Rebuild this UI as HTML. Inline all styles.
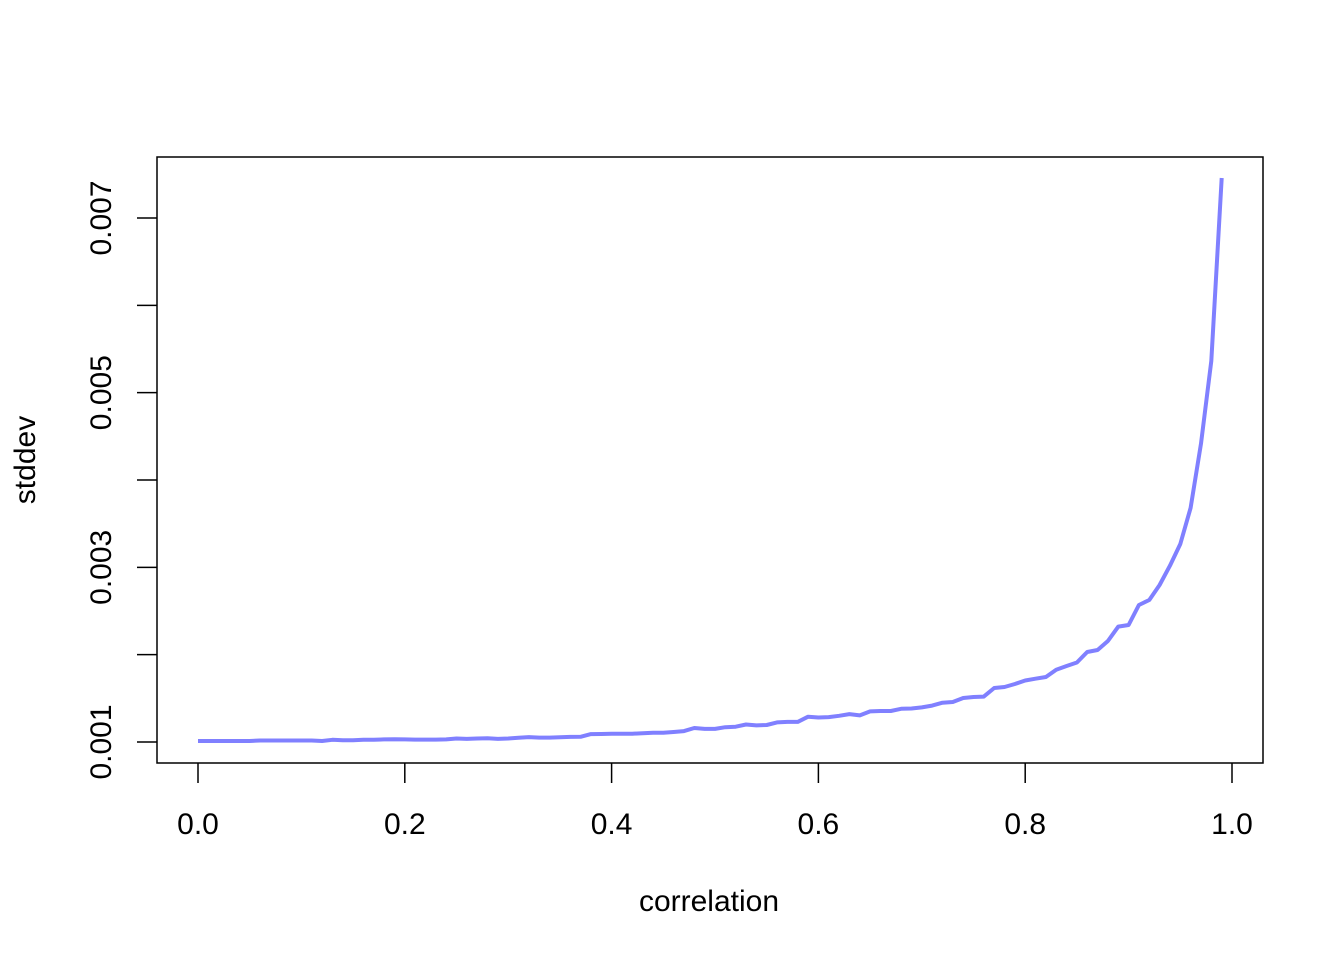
<!DOCTYPE html>
<html><head><meta charset="utf-8"><style>
html,body{margin:0;padding:0;background:#fff}
svg{display:block;font-family:"Liberation Sans",Arial,sans-serif}
</style></head><body>
<svg id="chart" width="1344" height="960" viewBox="0 0 1344 960" xmlns="http://www.w3.org/2000/svg">
<rect x="157" y="157" width="1106" height="606" fill="none" stroke="#000" stroke-width="1.5"/>
<g id="xaxis"></g>
<g id="yaxis"></g>
<text x="709" y="911" font-size="30" text-anchor="middle">correlation</text>
<text transform="translate(35,460) rotate(-90)" font-size="30" text-anchor="middle">stddev</text>
<g id="series"></g>
</svg>
<script>
const xTicks = [0, 0.2, 0.4, 0.6, 0.8, 1.0];
const xTickLabels = ["0.0", "0.2", "0.4", "0.6", "0.8", "1.0"];
const yTicks = [0.001, 0.002, 0.003, 0.004, 0.005, 0.006, 0.007];
const yTickLabels = ["0.001", "", "0.003", "", "0.005", "", "0.007"];
// stddev in units of 0.001, for correlation 0.00 .. 0.99 step 0.01
const stddevMilli = [
1.011,1.011,1.011,1.011,1.011,1.011,1.017,1.017,1.017,1.017,
1.017,1.017,1.011,1.025,1.020,1.020,1.025,1.025,1.030,1.032,
1.030,1.028,1.028,1.028,1.030,1.040,1.035,1.040,1.042,1.036,
1.040,1.048,1.056,1.050,1.050,1.055,1.058,1.060,1.090,1.092,
1.094,1.095,1.095,1.100,1.105,1.105,1.115,1.125,1.160,1.150,
1.150,1.170,1.175,1.200,1.190,1.195,1.225,1.230,1.230,1.290,
1.280,1.285,1.300,1.320,1.305,1.350,1.355,1.355,1.380,1.384,
1.396,1.417,1.450,1.458,1.504,1.515,1.520,1.618,1.630,1.664,
1.704,1.725,1.744,1.828,1.870,1.910,2.031,2.053,2.157,2.321,
2.340,2.569,2.626,2.798,3.020,3.267,3.680,4.417,5.363,7.458];
const correlations = stddevMilli.map((_, i) => i / 100);

const NS = "http://www.w3.org/2000/svg";
const xScale = v => 198 + (v - 0) * (1232 - 198);
const yScale = v => 742 - (v - 0.001) / 0.006 * (742 - 218);

const xa = document.getElementById('xaxis');
xTicks.forEach((t, i) => {
  const l = document.createElementNS(NS, 'line');
  
  
  l.setAttribute('x1', xScale(t)); l.setAttribute('x2', xScale(t));
  l.setAttribute('y1', 763); l.setAttribute('y2', 783);
  l.setAttribute('stroke', '#000'); l.setAttribute('stroke-width', '1.5');
  xa.appendChild(l);
  const tx = document.createElementNS(NS, 'text');
  
  
  tx.setAttribute('x', xScale(t)); tx.setAttribute('y', 834);
  tx.setAttribute('font-size', '30'); tx.setAttribute('text-anchor', 'middle');
  tx.textContent = xTickLabels[i];
  xa.appendChild(tx);
});
const ya = document.getElementById('yaxis');
yTicks.forEach((t, i) => {
  const l = document.createElementNS(NS, 'line');
  
  
  l.setAttribute('x1', 137); l.setAttribute('x2', 157);
  l.setAttribute('y1', yScale(t)); l.setAttribute('y2', yScale(t));
  l.setAttribute('stroke', '#000'); l.setAttribute('stroke-width', '1.5');
  ya.appendChild(l);
  if (yTickLabels[i]) {
    const tx = document.createElementNS(NS, 'text');
    
    
    tx.setAttribute('transform', 'translate(111,' + yScale(t) + ') rotate(-90)');
    tx.setAttribute('font-size', '30'); tx.setAttribute('text-anchor', 'middle');
    tx.textContent = yTickLabels[i];
    ya.appendChild(tx);
  }
});
const s = document.getElementById('series');
const p = document.createElementNS(NS, 'polyline');


p.setAttribute('points', correlations.map((r, i) => xScale(r).toFixed(1) + ',' + yScale(stddevMilli[i] / 1000).toFixed(1)).join(' '));
p.setAttribute('fill', 'none'); p.setAttribute('stroke', '#8080ff'); p.setAttribute('stroke-width', '4');
p.setAttribute('stroke-linejoin', 'round');
s.appendChild(p);
</script>
</body></html>
